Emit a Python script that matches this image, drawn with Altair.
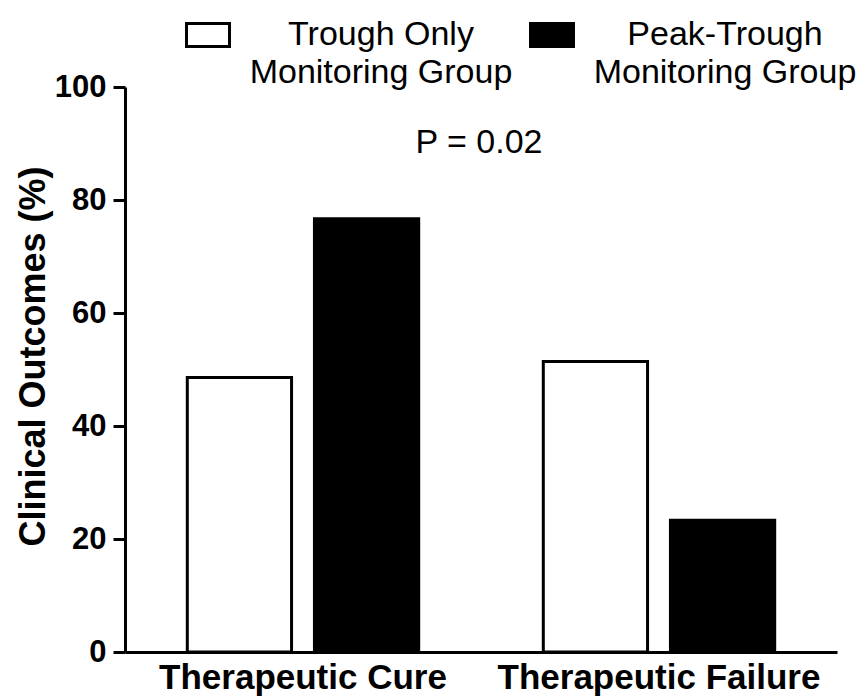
import altair as alt
import pandas as pd

outcomes = ["Therapeutic Cure", "Therapeutic Failure"]
groups = ["Trough Only|Monitoring Group", "Peak-Trough|Monitoring Group"]
trough_only = [48.6, 51.4]
peak_trough = [76.7, 23.3]
y_ticks = [0, 20, 40, 60, 80, 100]
p_label = "P = 0.02"

rows = []
for i, o in enumerate(outcomes):
    rows.append({"outcome": o, "group": groups[0], "value": trough_only[i]})
    rows.append({"outcome": o, "group": groups[1], "value": peak_trough[i]})
df = pd.DataFrame(rows)

FONT = "Liberation Sans"

bars = alt.Chart(df).mark_bar(stroke="black", strokeWidth=3, opacity=1).encode(
    x=alt.X(
        "outcome:N", sort=outcomes, title=None,
        scale=alt.Scale(paddingInner=0.35, paddingOuter=0.175),
        axis=alt.Axis(labelAngle=0, ticks=False, tickSize=0, labelPadding=8,
                      labelFont=FONT, labelFontSize=35, labelFontWeight="bold",
                      labelColor="black", domainColor="black", domainWidth=3,
                      labelLimit=500),
    ),
    xOffset=alt.XOffset("group:N", sort=groups,
                        scale=alt.Scale(paddingInner=0.18, paddingOuter=0)),
    y=alt.Y(
        "value:Q", title="Clinical Outcomes (%)",
        scale=alt.Scale(domain=[0, 100], nice=False),
        axis=alt.Axis(values=y_ticks, grid=False, tickSize=12, tickWidth=3,
                      tickColor="black", domainColor="black", domainWidth=3,
                      labelFont=FONT, labelFontSize=31, labelFontWeight="bold",
                      labelColor="black", labelPadding=7,
                      titleFont=FONT, titleFontSize=36, titleFontWeight="bold",
                      titleColor="black", titlePadding=2, titleY=269),
    ),
    fill=alt.Fill(
        "group:N", sort=groups,
        scale=alt.Scale(domain=groups, range=["white", "black"]),
        legend=alt.Legend(
            title=None, orient="none", legendX=60, legendY=-75,
            direction="horizontal",
            symbolType="M-1,-0.53H1V0.53H-1Z", symbolSize=1849,
            symbolStrokeColor="black", symbolStrokeWidth=3, symbolOpacity=1,
            labelExpr="split(datum.label, '|')",
            labelAlign="center", labelOffset=150, labelBaseline="middle",
            labelFont=FONT, labelFontSize=34, labelColor="black",
            labelLimit=600, columnPadding=11,
        ),
    ),
)

ptext = alt.Chart(pd.DataFrame({"label": [p_label]})).mark_text(
    font=FONT, fontSize=34, color="black"
).encode(text="label:N", x=alt.value(354), y=alt.value(56))

chart = alt.layer(bars, ptext).properties(
    width=712, height=565,
    background="white",
    autosize=alt.AutoSizeParams(type="none"),
    padding={"left": 117, "top": 79, "right": 19, "bottom": 45},
).configure(style={"guide-label": {"lineHeight": 38}}).configure_view(stroke=None)

chart.save("out.html", embed_options={"renderer": "svg", "actions": False})
